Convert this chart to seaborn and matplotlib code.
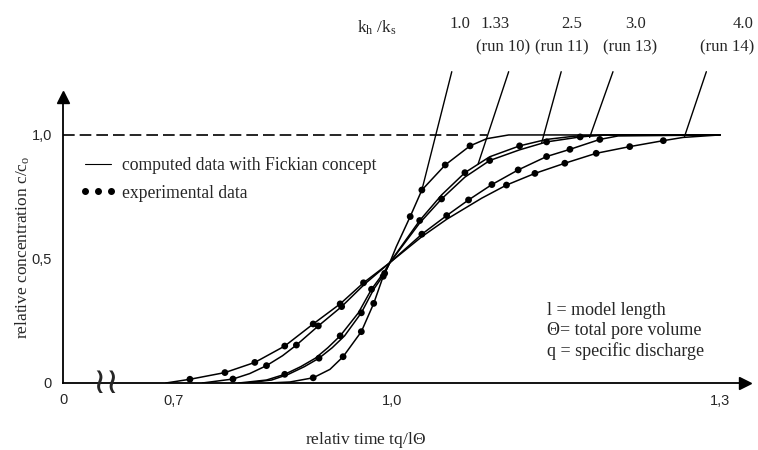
import pandas as pd
import seaborn as sns
import matplotlib.pyplot as plt
from matplotlib.lines import Line2D

runs = ['1.0', '1.33', '2.5', '3.0', '4.0']

# computed curves (Fickian concept), t = tq/l0, c = c/c0
a_t = [0.83, 0.86, 0.892, 0.915, 0.933, 0.958, 0.975, 0.988, 0.997, 1.006, 1.025, 1.041, 1.073, 1.107, 1.13, 1.16, 1.45]
a_c = [0.0, 0.004, 0.021, 0.055, 0.106, 0.207, 0.321, 0.43, 0.485, 0.55, 0.671, 0.778, 0.879, 0.956, 0.985, 1.0, 1.0]
b_t = [0.79, 0.828, 0.853, 0.875, 0.895, 0.912, 0.929, 0.954, 0.972, 0.988, 0.997, 1.015, 1.038, 1.068, 1.1, 1.134, 1.175, 1.212, 1.25, 1.3, 1.45]
b_c = [0.0, 0.012, 0.035, 0.066, 0.1, 0.142, 0.19, 0.283, 0.378, 0.442, 0.485, 0.56, 0.655, 0.758, 0.848, 0.912, 0.956, 0.982, 0.995, 1.0, 1.0]
c_t = [0.80, 0.835, 0.858, 0.88, 0.9, 0.918, 0.935, 0.958, 0.975, 0.99, 0.997, 1.015, 1.038, 1.068, 1.1, 1.134, 1.175, 1.212, 1.258, 1.29, 1.45]
c_c = [0.0, 0.012, 0.035, 0.066, 0.1, 0.142, 0.19, 0.283, 0.378, 0.442, 0.485, 0.555, 0.645, 0.742, 0.83, 0.897, 0.94, 0.972, 0.992, 1.0, 1.0]
d_t = [0.74, 0.782, 0.805, 0.828, 0.85, 0.869, 0.899, 0.931, 0.963, 0.997, 1.02, 1.041, 1.075, 1.105, 1.137, 1.173, 1.212, 1.244, 1.285, 1.31, 1.45]
d_c = [0.0, 0.016, 0.038, 0.07, 0.11, 0.153, 0.23, 0.308, 0.40, 0.485, 0.545, 0.60, 0.675, 0.738, 0.80, 0.859, 0.913, 0.942, 0.982, 0.996, 1.0]
e_t = [0.69, 0.723, 0.771, 0.812, 0.853, 0.892, 0.929, 0.961, 0.997, 1.02, 1.041, 1.075, 1.123, 1.157, 1.196, 1.237, 1.28, 1.326, 1.372, 1.399, 1.449]
e_c = [0.0, 0.015, 0.042, 0.083, 0.149, 0.238, 0.319, 0.404, 0.485, 0.54, 0.59, 0.66, 0.745, 0.798, 0.845, 0.886, 0.926, 0.953, 0.977, 0.99, 1.0]

# experimental data points
a_dot_t = [0.892, 0.933, 0.958, 0.975, 0.988, 1.025, 1.041, 1.073, 1.107]
a_dot_c = [0.021, 0.106, 0.207, 0.321, 0.43, 0.671, 0.778, 0.879, 0.956]
b_dot_t = [0.853, 0.929, 0.972, 1.038, 1.1, 1.175]
b_dot_c = [0.035, 0.19, 0.378, 0.655, 0.848, 0.956]
c_dot_t = [0.9, 0.958, 0.99, 1.068, 1.134, 1.212, 1.258]
c_dot_c = [0.1, 0.283, 0.442, 0.742, 0.897, 0.972, 0.992]
d_dot_t = [0.782, 0.828, 0.869, 0.899, 0.931, 1.041, 1.075, 1.105, 1.137, 1.173, 1.212, 1.244, 1.285]
d_dot_c = [0.016, 0.07, 0.153, 0.23, 0.308, 0.60, 0.675, 0.738, 0.80, 0.859, 0.913, 0.942, 0.982]
e_dot_t = [0.723, 0.771, 0.812, 0.853, 0.892, 0.929, 0.961, 1.157, 1.196, 1.237, 1.28, 1.326, 1.372]
e_dot_c = [0.015, 0.042, 0.083, 0.149, 0.238, 0.319, 0.404, 0.798, 0.845, 0.886, 0.926, 0.953, 0.977]

run_names = ['', '(run 10)', '(run 11)', '(run 13)', '(run 14)']

lines = pd.concat([pd.DataFrame({'t': t, 'c': c, 'run': r})
                   for r, t, c in zip(runs, [a_t, b_t, c_t, d_t, e_t], [a_c, b_c, c_c, d_c, e_c])])
dots = pd.concat([pd.DataFrame({'t': t, 'c': c, 'run': r})
                  for r, t, c in zip(runs, [a_dot_t, b_dot_t, c_dot_t, d_dot_t, e_dot_t],
                                     [a_dot_c, b_dot_c, c_dot_c, d_dot_c, e_dot_c])])

sns.set_style('white')
plt.rcParams['font.family'] = ['Liberation Serif', 'DejaVu Serif']
plt.rcParams['mathtext.fontset'] = 'custom'
plt.rcParams['mathtext.rm'] = 'Liberation Serif'
plt.rcParams['mathtext.it'] = 'Liberation Serif'

fig = plt.figure(figsize=(7.58, 4.5), dpi=100)
ax = fig.add_axes([63 / 758, 67 / 450, 682 / 758, 286 / 450])

x0, x1 = 0.549, 1.484
ax.set_xlim(x0, x1)
ax.set_ylim(0, 1.153)

ax.hlines(1.0, x0, 1.13, colors='black', lw=1.2, linestyles=(0, (7, 3)))

sns.lineplot(data=lines, x='t', y='c', units='run', estimator=None, sort=False,
             color='black', lw=1.1, ax=ax, legend=False)
sns.scatterplot(data=dots, x='t', y='c', color='black', s=24, edgecolor='none',
                ax=ax, legend=False, zorder=3)

# leader lines to the labels above the plot
lead_top_t = [1.082, 1.160, 1.232, 1.303, 1.431]
lead_end_t = [1.041, 1.118, 1.205, 1.271, 1.401]
lead_end_c = [0.778, 0.882, 0.966, 0.99, 0.993]
for tt, te, ce in zip(lead_top_t, lead_end_t, lead_end_c):
    ax.plot([tt, te], [1.255, ce], color='black', lw=1.0, clip_on=False)

label_t = [1.093, 1.141, 1.247, 1.334, 1.481]
run_t = [1.093, 1.152, 1.233, 1.326, 1.460]
for r, lt, name, rt in zip(runs, label_t, run_names, run_t):
    ax.text(lt, 1.448, r, ha='center', va='center', fontsize=12)
    if name:
        ax.text(rt, 1.351, name, ha='center', va='center', fontsize=12)
ax.text(0.979, 1.43, r'k$_\mathregular{h}$ /k$_\mathregular{s}$', ha='center', va='center', fontsize=12.5)

# axes styling
sns.despine(ax=ax)
for s in ['left', 'bottom']:
    ax.spines[s].set_linewidth(1.3)
    ax.spines[s].set_color('black')
ax.plot(1, 0, '>', color='black', ms=9, transform=ax.transAxes, clip_on=False)
ax.plot(0, 1, '^', color='black', ms=9, transform=ax.transAxes, clip_on=False)

ax.set_xticks([0.7, 0.85, 1.0, 1.15, 1.30, 1.45])
ax.set_xticklabels(['0,7', '', '1,0', '', '', '1,3'], family='Liberation Sans', fontsize=10.5)
ax.set_yticks([0, 0.5, 1.0])
ax.set_yticklabels(['0', '0,5', '1,0'], family='Liberation Sans', fontsize=10.5)
ax.tick_params(axis='both', direction='out', length=5, width=1.1, color='black', pad=3)
ax.set_xlabel('')
ax.set_ylabel('')
ax.text(0, -0.06, '0', transform=ax.transAxes, ha='center', va='center',
        family='Liberation Sans', fontsize=10.5)
ax.text(0.063, 0, '\u2240\u2240', transform=ax.transAxes, ha='center', va='center',
        family='DejaVu Sans', fontsize=26)

fig.text(365 / 758, 1 - 440 / 450, r'relativ time tq/l$\Theta$', ha='center', va='center', fontsize=12.5)
fig.text(23 / 758, 1 - 247 / 450, r'relative concentration c/c$_\mathregular{o}$',
         rotation=90, ha='center', va='center', fontsize=12.5)

notes = ['l = model length', '\u0398= total pore volume', 'q = specific discharge']
for i, n in enumerate(notes):
    ax.text(1.212, 0.294 - 0.083 * i, n, ha='left', va='center', fontsize=13)

handles = [Line2D([], [], color='black', lw=0.8),
           Line2D([], [], color='black', ls='', marker='o', ms=4)]
ax.legend(handles, ['computed data with Fickian concept', 'experimental data'],
          loc='upper left', bbox_to_anchor=(0.024, 0.79), frameon=False, fontsize=12.7,
          numpoints=3, handlelength=2.1, handletextpad=0.3, labelspacing=0.6,
          borderpad=0, borderaxespad=0)

fig.savefig('out.png', dpi=100)
